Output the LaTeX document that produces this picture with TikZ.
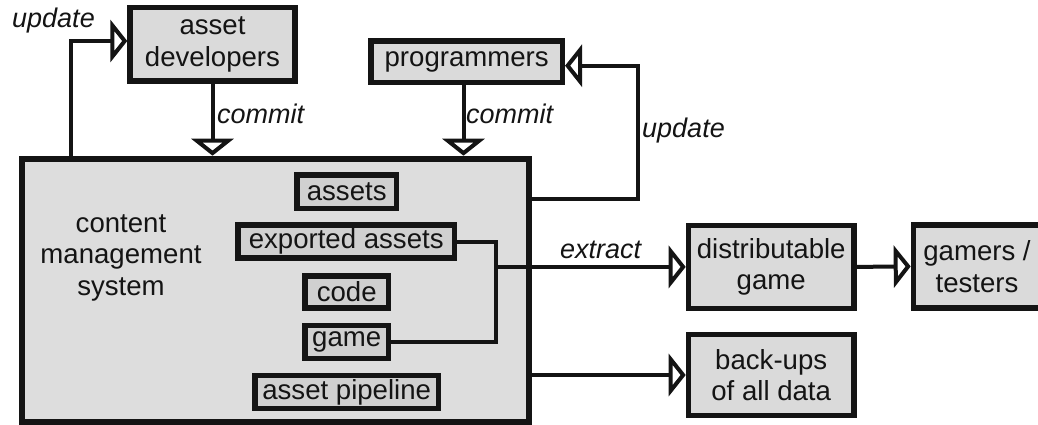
\documentclass[tikz,border=0pt]{standalone}
\usepackage{fontspec}
\setmainfont{Liberation Sans}
\usetikzlibrary{arrows.meta,calc}
\definecolor{boxfill}{HTML}{DADADA}
\definecolor{cmsfill}{HTML}{DDDDDD}
\definecolor{innerfill}{HTML}{D0D0D0}
\definecolor{ink}{HTML}{141414}
\tikzset{
  box/.style={draw=ink, line width=5.5pt, fill=boxfill, inner sep=0pt, align=center,
    font=\fontsize{27.6}{31.5}\selectfont, text=ink},
  inbox/.style={box, fill=innerfill},
  conn/.style={draw=ink, line width=4pt},
  arr/.style={-{Triangle[fill=white, length=17pt, width=42pt]}},
  lbl/.style={inner sep=0pt, font=\fontsize{27}{31}\selectfont\itshape, text=ink},
}
\begin{document}
\begin{tikzpicture}[x=1pt, y=-1pt]
  \useasboundingbox (0,0) rectangle (1038,425);
  \fill[white] (0,0) rectangle (1038,425);
  \clip (0,0) rectangle (1038,425);

  % people who commit to the repository
  \node[box, minimum width=164.9pt, minimum height=73.5pt] (adev) at (212.5,44.5) {asset\\developers};
  \node[box, minimum width=191.2pt, minimum height=41.2pt] (prog) at (466.7,61.7) {programmers};

  % the content management system and what it holds
  \node[box, fill=cmsfill, line width=6pt, minimum width=507pt, minimum height=263.3pt] (cms) at (275.5,290.35) {};
  \node[inner sep=0pt, align=center, font=\fontsize{27.6}{31.5}\selectfont, text=ink] (cmslabel) at (121,257.5) {content\\management\\system};
  \node[inbox, minimum width=99.5pt, minimum height=33.2pt] (assets) at (346.7,191.7) {assets};
  \node[inbox, minimum width=216.8pt, minimum height=32.9pt] (exported) at (346.2,241.5) {exported assets};
  \node[inbox, minimum width=83.2pt, minimum height=31.9pt] (code) at (346.7,292) {code};
  \node[inbox, minimum width=83.2pt, minimum height=32.8pt] (game) at (346.7,341.9) {game};
  \node[inbox, minimum width=183.2pt, minimum height=32.8pt] (pipeline) at (346.7,391.9) {asset pipeline};

  % outputs
  \node[box, minimum width=165.5pt, minimum height=82.8pt] (dist) at (771.2,266.9) {distributable\\game};
  \node[box, minimum width=127.1pt, minimum height=82.8pt] (gamers) at (977,266.4) {gamers /\\testers};
  \node[box, minimum width=165.5pt, minimum height=81.1pt] (backups) at (771.2,375) {back-ups\\of all data};

  % update / commit loops
  \coordinate (uL) at (71,41);
  \draw[conn, arr] (cms.north -| uL) |- (adev.west |- uL);
  \draw[conn, arr] (adev.south) -- (adev.south |- cms.north);
  \coordinate (pc) at (463.5,100);
  \draw[conn, arr] (prog.south -| pc) -- (cms.north -| pc);
  \coordinate (uR1) at (637.7,199.3);
  \coordinate (uR2) at (637.7,65.7);
  \draw[conn, arr] (cms.east |- uR1) -- (uR1) -- (uR2) -- (prog.east |- uR2);

  % extraction of the game and back-ups
  \coordinate (bx) at (496,266.9);
  \draw[conn] (exported.east) -| (bx) |- (game.east);
  \draw[conn, arr] (bx) -- (dist.west);
  \draw[conn, arr] (dist.east) -- (gamers.west);
  \draw[conn, arr] (cms.east |- backups.west) -- (backups.west);

  % connector labels
  \node[lbl, anchor=base west] (lupd1) at (12,28) {update};
  \node[lbl, anchor=base west] (lcom1) at (217,124) {commit};
  \node[lbl, anchor=base west] (lcom2) at (466,124) {commit};
  \node[lbl, anchor=base west] (lupd2) at (642,137) {update};
  \node[lbl, anchor=base west] (lext) at (560,258) {extract};
\end{tikzpicture}
\end{document}
